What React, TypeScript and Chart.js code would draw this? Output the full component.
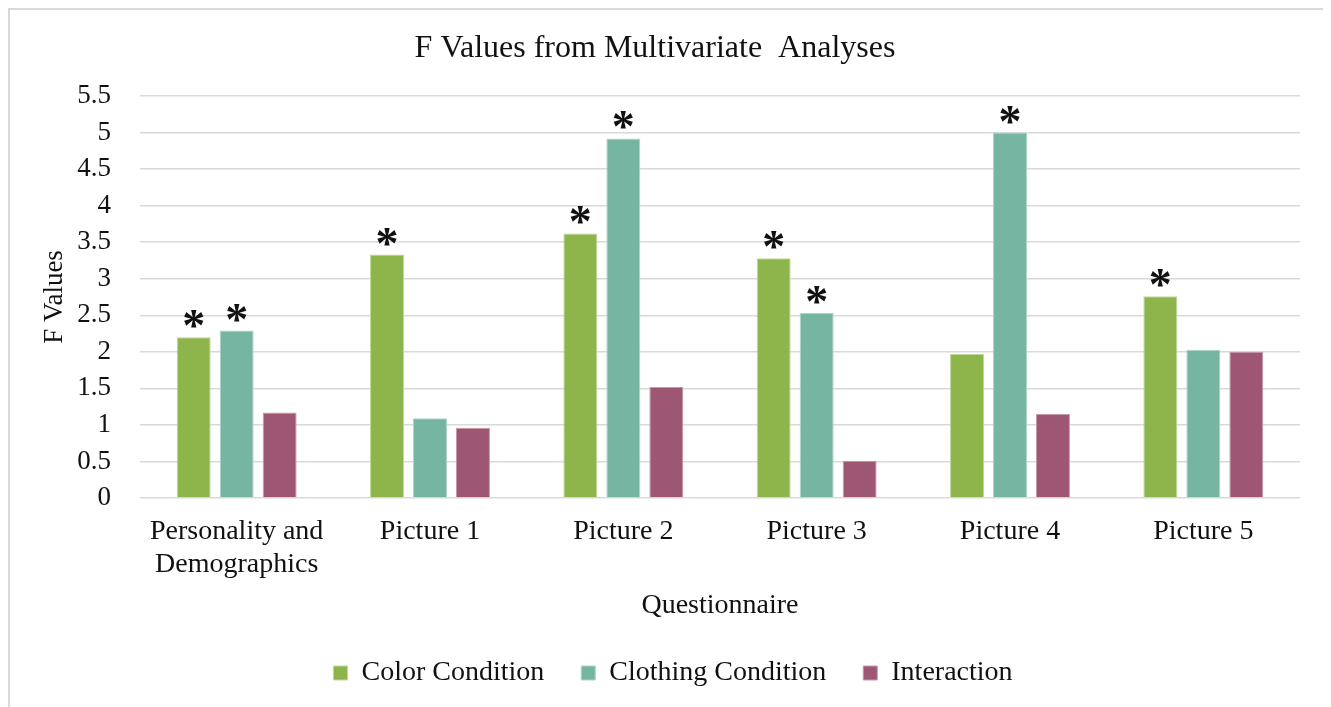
import React, { useEffect, useRef } from 'react';
import { Chart, registerables } from 'chart.js';

Chart.register(...registerables);

const categories: (string | string[])[] = [
  ['Personality and', 'Demographics'],
  'Picture 1',
  'Picture 2',
  'Picture 3',
  'Picture 4',
  'Picture 5',
];
const seriesNames = ['Color Condition', 'Clothing Condition', 'Interaction'];
const colorCondition = [2.2, 3.33, 3.62, 3.28, 1.97, 2.76];
const clothingCondition = [2.29, 1.09, 4.92, 2.53, 5.0, 2.03];
const interaction = [1.17, 0.96, 1.52, 0.51, 1.15, 2.0];
const colorSignificant = [true, true, true, true, false, true];
const clothingSignificant = [true, false, true, true, true, false];
const interactionSignificant = [false, false, false, false, false, false];
const yMin = 0;
const yMax = 5.5;
const yStep = 0.5;

const FONT = "'Liberation Serif', 'Times New Roman', serif";
const TEXT = '#111111';

const significance = [colorSignificant, clothingSignificant, interactionSignificant];

const asteriskPlugin = {
  id: 'asterisks',
  afterDatasetsDraw(chart: any) {
    const ctx = chart.ctx;
    ctx.save();
    ctx.font = `bold 46px ${FONT}`;
    ctx.fillStyle = TEXT;
    ctx.textAlign = 'center';
    ctx.textBaseline = 'alphabetic';
    chart.data.datasets.forEach((_ds: any, di: number) => {
      const flags = significance[di];
      const meta = chart.getDatasetMeta(di);
      meta.data.forEach((bar: any, i: number) => {
        if (flags[i]) ctx.fillText('*', bar.x, bar.y + 4);
      });
    });
    ctx.restore();
  },
};

const legendShiftPlugin = {
  id: 'legendShift',
  afterLayout(chart: any) {
    const l = chart.legend;
    if (l) {
      l.left += 18;
      l.right += 18;
    }
  },
};

export default function App() {
  const canvasRef = useRef<HTMLCanvasElement | null>(null);

  useEffect(() => {
    document.documentElement.style.overflow = 'hidden';
    if (!canvasRef.current) return;
    const chart = new Chart(canvasRef.current, {
      type: 'bar',
      data: {
        labels: categories as any,
        datasets: [
          {
            label: seriesNames[0],
            data: colorCondition,
            backgroundColor: '#8EB54C',
            borderColor: '#BFD89A',
            borderWidth: 1,
          },
          {
            label: seriesNames[1],
            data: clothingCondition,
            backgroundColor: '#75B5A1',
            borderColor: '#AED4C7',
            borderWidth: 1,
          },
          {
            label: seriesNames[2],
            data: interaction,
            backgroundColor: '#9E5772',
            borderColor: '#C898AA',
            borderWidth: 1,
          },
        ],
      },
      options: {
        responsive: false,
        animation: false,
        maintainAspectRatio: false,
        datasets: {
          bar: {
            categoryPercentage: 0.667,
            barPercentage: 0.79,
          },
        },
        layout: { padding: { left: 0, right: 24, top: 0, bottom: 0 } },
        plugins: {
          title: {
            display: true,
            text: 'F Values from Multivariate  Analyses',
            color: TEXT,
            font: { family: FONT, size: 32, weight: 'normal' },
            padding: { top: 19, bottom: 28.6 },
          },
          legend: {
            display: true,
            position: 'bottom',
            labels: {
              boxWidth: 14,
              boxHeight: 14,
              padding: 37,
              color: TEXT,
              font: { family: FONT, size: 28 },
            },
          },
          tooltip: { enabled: false },
        },
        scales: {
          x: {
            grid: { display: false, drawTicks: false },
            border: { display: false },
            ticks: {
              color: TEXT,
              font: { family: FONT, size: 28, lineHeight: 1.18 },
              padding: 17,
              maxRotation: 0,
              minRotation: 0,
              autoSkip: false,
            },
            title: {
              display: true,
              text: 'Questionnaire',
              color: TEXT,
              font: { family: FONT, size: 28 },
              padding: { top: 0, bottom: 0 },
            },
            afterFit: (scale: any) => {
              scale.height = 124;
            },
          },
          y: {
            min: yMin,
            max: yMax,
            grid: { color: '#D9D9D9', lineWidth: 1.5, drawTicks: false },
            border: { display: false },
            ticks: {
              stepSize: yStep,
              color: TEXT,
              font: { family: FONT, size: 27 },
              padding: 29,
              callback: (v: any) => String(Math.round(Number(v) * 10) / 10),
            },
            title: {
              display: true,
              text: 'F Values',
              color: TEXT,
              font: { family: FONT, size: 27 },
              padding: { top: 29, bottom: 0 },
            },
            afterFit: (scale: any) => {
              scale.width = 130;
            },
          },
        },
      },
      plugins: [asteriskPlugin, legendShiftPlugin],
    });
    return () => chart.destroy();
  }, []);

  return (
    <div
      style={{
        position: 'relative',
        width: 1318,
        height: 712,
        boxSizing: 'border-box',
        borderTop: '2px solid #D9D9D9',
        borderLeft: '2px solid #D9D9D9',
        borderRight: '2px solid #D9D9D9',
        overflow: 'hidden',
        background: '#ffffff',
      }}
    >
      <canvas
        ref={canvasRef}
        width={1314}
        height={687}
        style={{ position: 'absolute', left: 0, top: 0, width: 1314, height: 687 }}
      />
    </div>
  );
}
